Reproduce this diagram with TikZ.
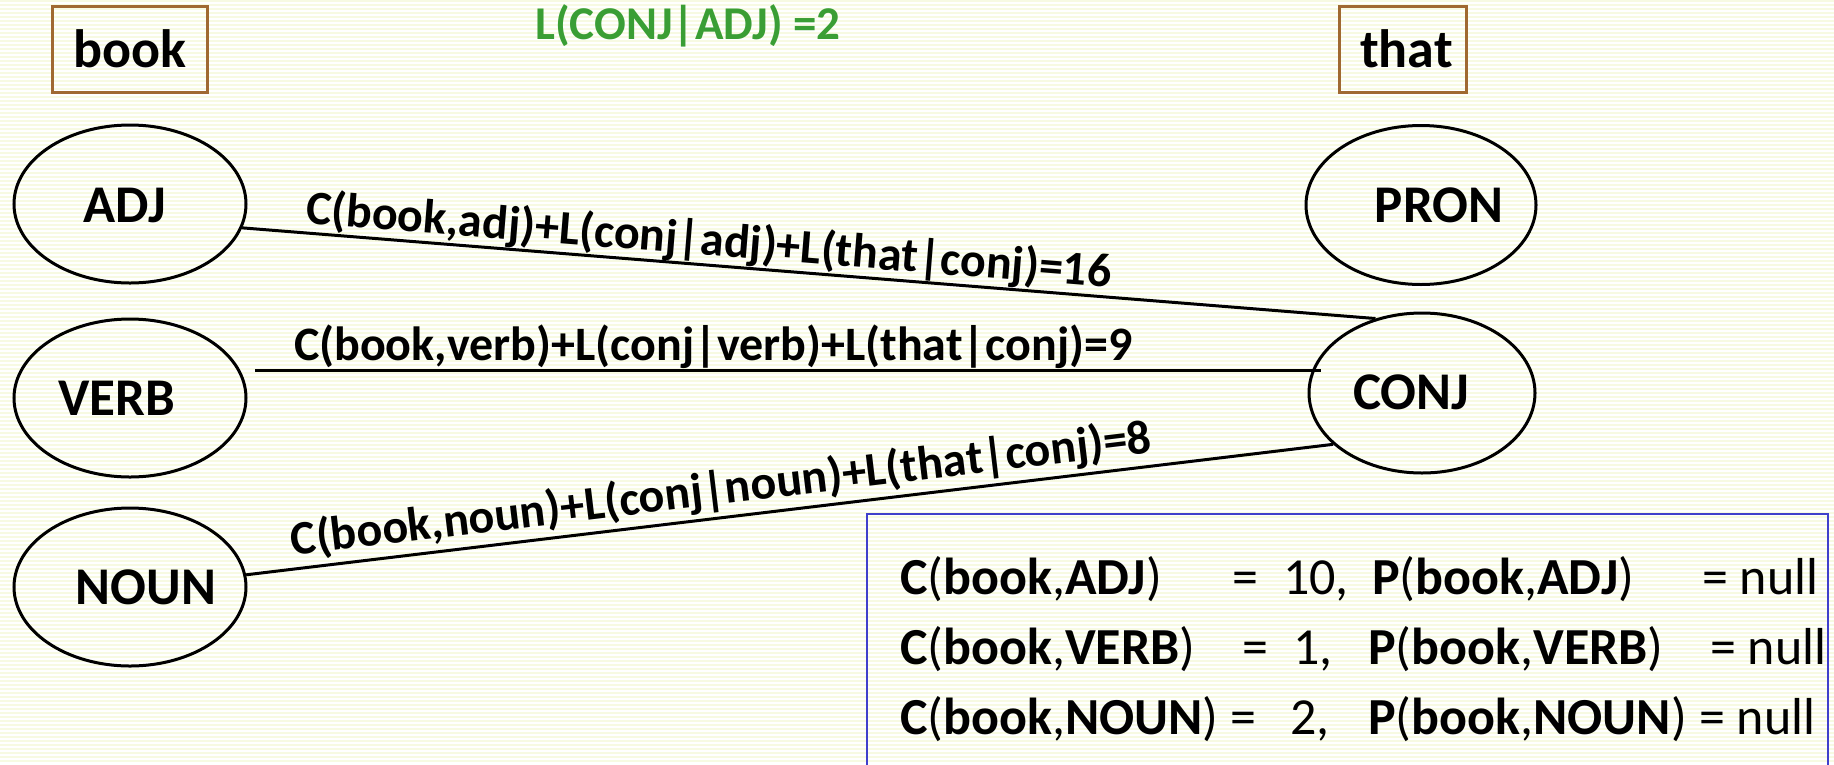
\documentclass[tikz,border=0pt]{standalone}
\usepackage{fontspec}
\setmainfont{Carlito}
\usetikzlibrary{shapes.geometric}
\definecolor{wordbrown}{RGB}{160,105,50}
\definecolor{headgreen}{RGB}{58,158,53}
\definecolor{tableblue}{RGB}{64,64,204}
\definecolor{stripe}{RGB}{247,250,226}

\begin{document}
\begin{tikzpicture}[x=1pt,y=-1pt,
  wordbox/.style={draw=wordbrown,line width=3pt,minimum height=86pt,inner sep=0pt,font=\fontsize{54}{60}\selectfont\bfseries},
  tagnode/.style={draw,ellipse,line width=3pt,minimum width=232pt,minimum height=158pt,inner sep=0pt},
  tagtext/.style={font=\fontsize{53}{60}\selectfont\bfseries,inner sep=0pt},
  link/.style={line width=3pt},
  linktext/.style={font=\fontsize{48}{56}\selectfont\bfseries,inner sep=0pt,sloped,above},
  rowtext/.style={font=\fontsize{52}{60}\selectfont,inner sep=0pt,anchor=base west}]
\useasboundingbox (0,0) rectangle (1834,764);
\clip (0,0) rectangle (1834,764);
% striped background
\fill[white] (0,0) rectangle (1834,764);
\foreach \k in {0,4,...,760}
  \fill[stripe] (0,\k) rectangle (1834,\k+2);

% the two words
\node[wordbox,minimum width=155pt] (book) at (129.5,49){book};
\node[wordbox,minimum width=127pt] (that) at (1402.5,49){\hspace*{8pt}that};
\node[font=\fontsize{47}{56}\selectfont\bfseries,text=headgreen,inner sep=0pt] (lcond) at (688,26){L(CONJ|ADJ) =2};

% tags of book
\node[tagnode] (adj) at (130,204){};
\node[tagtext] (adjtext) at (125,205){ADJ};
\node[tagnode] (verb) at (130,398){};
\node[tagtext] (verbtext) at (117,398){VERB};
\node[tagnode] (noun) at (130,587){};
\node[tagtext] (nountext) at (146,587){NOUN};

% tags of that
\node[tagnode,minimum width=230pt,minimum height=159pt] (pron) at (1421,205){};
\node[tagtext] (prontext) at (1439,205){PRON};
\node[tagnode,minimum width=226pt,minimum height=160pt] (conj) at (1422,393){};
\node[tagtext] (conjtext) at (1411,392){CONJ};

% paths into CONJ
\draw[link] (adj.348) -- (conj.122)
  node[linktext,pos=.41]{C(book,adj)+L(conj|adj)+L(that|conj)=16};
\coordinate (vstart) at (255,370);
\draw[link] (vstart) -- ([xshift=13pt]vstart -| conj.west)
  node[linktext,pos=.43]{C(book,verb)+L(conj|verb)+L(that|conj)=9};
\draw[link] (noun.6) -- (conj.210)
  node[linktext,pos=.44,above=4pt]{C(book,noun)+L(conj|noun)+L(that|conj)=8};

% counts table
\draw[tableblue,line width=2pt] (867,514) rectangle (1828,800);
\foreach \i/\t/\n/\ye/\xe/\xn/\xp/\xq in
  {1/ADJ/10/594/1232/1283/1372/1702,
   2/VERB/1/664/1242/1293/1368/1710,
   3/NOUN/2/734/1230/1290/1368/1699}{
  \node[rowtext] (c\i) at (900,\ye){\textbf{C}(\textbf{book},\textbf{\t})};
  \node[rowtext] (e\i) at (\xe,\ye){=};
  \node[rowtext] (n\i) at (\xn,\ye){\n,};
  \node[rowtext] (p\i) at (\xp,\ye){\textbf{P}(\textbf{book},\textbf{\t})};
  \node[rowtext] (q\i) at (\xq,\ye){= null};
}
\end{tikzpicture}
\end{document}
